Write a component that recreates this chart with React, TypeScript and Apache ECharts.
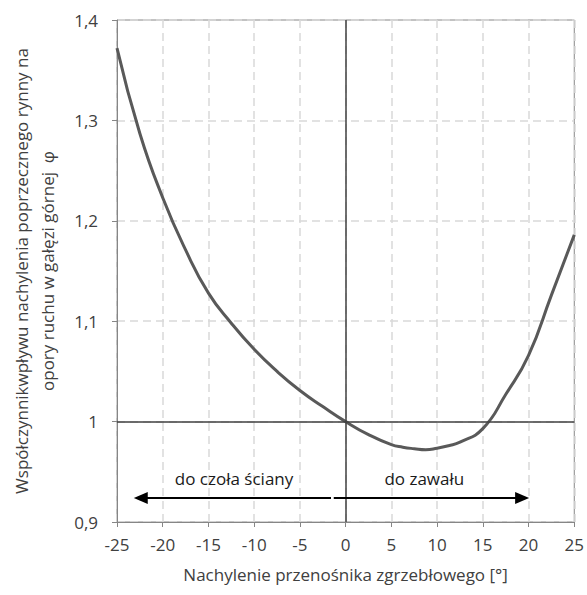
import React, { useEffect, useRef } from "react";
import * as echarts from "echarts";

const xValues = [-25, -22.5, -20, -17.5, -15, -12.5, -10, -7.5, -5, -2.5, 0, 2.5, 5, 6.25, 7.5, 8.75, 10, 11.25, 12.5, 15, 17.5, 20, 22.5, 25];
const phiValues = [1.372, 1.287, 1.223, 1.171, 1.128, 1.098, 1.072, 1.05, 1.031, 1.015, 1.0, 0.987, 0.977, 0.9745, 0.973, 0.972, 0.9735, 0.976, 0.9795, 0.993, 1.027, 1.066, 1.126, 1.186];

const xTitle = "Nachylenie przenośnika zgrzebłowego [°]";
const yTitle = "Współczynnikwpływu nachylenia poprzecznego rynny na\nopory ruchu w gałęzi górnej  φ";

const leftLabel = "do czoła ściany";
const rightLabel = "do zawału";
const leftLabelPos = [-12.2, 0.943];
const rightLabelPos = [8.6, 0.943];
const arrowY = 0.924;
const leftArrow = [-22.4, -1.6];
const rightArrow = [-1.3, 19.3];

const FONT = "Open Sans";
const FS = 17;

export default function App() {
  const ref = useRef<HTMLDivElement>(null);
  useEffect(() => {
    document.body.style.margin = "0";
    const chart = echarts.init(ref.current!, null, { renderer: "svg" });
    chart.setOption({
      animation: false,
      textStyle: { fontFamily: FONT },
      grid: {
        left: 112,
        right: 12,
        top: 20,
        bottom: 73,
        show: true,
        borderColor: "#868686",
        borderWidth: 1,
      },
      xAxis: {
        type: "value",
        min: -25,
        max: 25,
        interval: 5,
        name: xTitle,
        nameLocation: "middle",
        nameGap: 44,
        nameTextStyle: { fontSize: FS, color: "#404040", fontFamily: FONT },
        axisLine: { show: true, onZero: false, lineStyle: { color: "#868686", width: 1 } },
        axisTick: { show: true, length: 5, lineStyle: { color: "#868686" } },
        axisLabel: { fontSize: FS, color: "#404040", margin: 14, fontFamily: FONT },
        splitLine: { show: true, lineStyle: { color: "#d9d9d9", width: 1.5, type: [8, 5] } },
      },
      yAxis: {
        type: "value",
        min: 0.9,
        max: 1.4,
        interval: 0.1,
        name: yTitle,
        nameLocation: "middle",
        nameRotate: 90,
        nameGap: 57,
        nameTextStyle: { fontSize: FS, color: "#404040", lineHeight: 26, fontFamily: FONT },
        axisLine: { show: true, onZero: false, lineStyle: { color: "#868686", width: 1 } },
        axisTick: { show: true, length: 5, lineStyle: { color: "#868686" } },
        axisLabel: {
          fontSize: FS,
          color: "#404040",
          margin: 19,
          fontFamily: FONT,
          formatter: (v: number) => String(+v.toFixed(1)).replace(".", ","),
        },
        splitLine: { show: true, lineStyle: { color: "#d9d9d9", width: 1.5, type: [8, 5] } },
      },
      series: [
        {
          type: "line",
          data: xValues.map((x, i) => [x, phiValues[i]]),
          smooth: 0.5,
          showSymbol: false,
          lineStyle: { color: "#595959", width: 3 },
          z: 3,
          markLine: {
            silent: true,
            symbol: "none",
            label: { show: false },
            lineStyle: { color: "#404040", width: 1.5, type: "solid" },
            data: [{ xAxis: 0 }, { yAxis: 1 }],
          },
        },
        {
          type: "line",
          data: [],
          z: 4,
          markLine: {
            silent: true,
            label: { show: false },
            lineStyle: { color: "#000", width: 2, type: "solid" },
            symbolSize: [12, 14],
            data: [
              [
                { coord: [leftArrow[0], arrowY], symbol: "triangle" },
                { coord: [leftArrow[1], arrowY], symbol: "none" },
              ],
              [
                { coord: [rightArrow[0], arrowY], symbol: "none" },
                { coord: [rightArrow[1], arrowY], symbol: "triangle" },
              ],
            ],
          },
          markPoint: {
            silent: true,
            symbol: "circle",
            symbolSize: 1,
            itemStyle: { color: "rgba(0,0,0,0)" },
            label: {
              show: true,
              position: "inside",
              formatter: "{b}",
              fontSize: FS,
              color: "#1a1a1a",
              fontFamily: FONT,
            },
            data: [
              { name: leftLabel, coord: leftLabelPos },
              { name: rightLabel, coord: rightLabelPos },
            ],
          },
        },
      ],
    });
    return () => chart.dispose();
  }, []);
  return <div ref={ref} style={{ width: 587, height: 595 }} />;
}
